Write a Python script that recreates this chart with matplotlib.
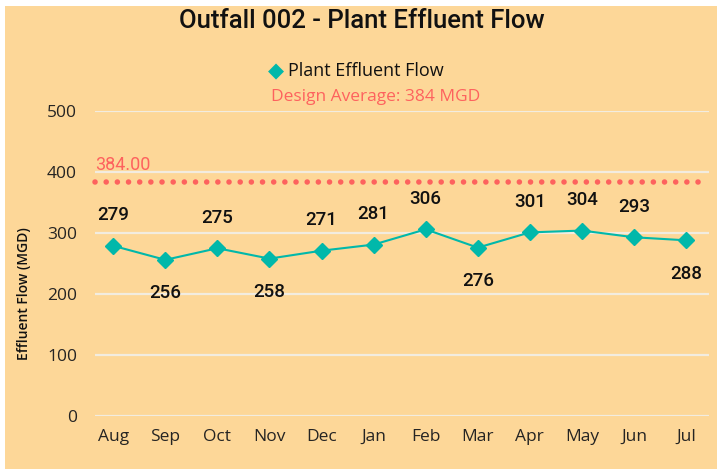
import matplotlib
matplotlib.use('Agg')
import matplotlib.pyplot as plt

# ── Data ─────────────────────────────────────────────────────────────────────
months = ['Aug', 'Sep', 'Oct', 'Nov', 'Dec', 'Jan',
          'Feb', 'Mar', 'Apr', 'May', 'Jun', 'Jul']
flow = [279, 256, 275, 258, 271, 281, 306, 276, 301, 304, 293, 288]
label_above = [True, False, True, False, True, True,
               True, False, True, True, True, False]
design_avg = 384.00
y_ticks = [0, 100, 200, 300, 400, 500]

# ── Colours ──────────────────────────────────────────────────────────────────
BG = '#FDD798'
TEAL = '#01B8AA'
RED = '#FD625E'
GRID = '#F2ECE0'
TEXT = '#252423'

W, H = 717, 469
fig = plt.figure(figsize=(W / 100, H / 100), dpi=100)
fig.patch.set_facecolor('white')
fig.add_artist(plt.Rectangle((5 / W, 0), 1, 1 - 6 / H, transform=fig.transFigure,
                             facecolor=BG, edgecolor='none', zorder=0))

ax = fig.add_axes([95 / W, 53 / H, (709 - 95) / W, (416 - 111) / H])
ax.set_facecolor('none')
x = list(range(len(months)))
ax.set_xlim(-0.35, 11.44)
ax.set_ylim(0, 500)

for s in ax.spines.values():
    s.set_visible(False)
ax.set_yticks(y_ticks)
ax.yaxis.grid(True, color=GRID, lw=1.6)
ax.set_axisbelow(True)
ax.tick_params(length=0)
ax.tick_params(axis='y', pad=13, labelsize=12.5, labelcolor=TEXT)
ax.tick_params(axis='x', pad=9, labelsize=12.5, labelcolor=TEXT)
ax.set_xticks(x)
ax.set_xticklabels(months)
for t in ax.get_xticklabels() + ax.get_yticklabels():
    t.set_family('Open Sans')

# design average line
ax.axhline(design_avg, color=RED, lw=4, ls=(0, (0.01, 2.0)),
           dash_capstyle='round', zorder=2, clip_on=False)
ax.text(-0.35, design_avg + 12, f'{design_avg:.2f}', color=RED, fontsize=13,
        family='Roboto', ha='left', va='bottom')

# series
ax.plot(x, flow, color=TEAL, lw=1.5, marker='D', markersize=8,
        markeredgecolor=TEAL, zorder=3, clip_on=False)
for xi, v, up in zip(x, flow, label_above):
    off = 22 if up else -24
    ax.annotate(str(v), (xi, v), xytext=(0, off), textcoords='offset points',
                ha='center', va='center', fontsize=13.5, fontweight='medium',
                family='Roboto', color='#111111')

ax.set_ylabel('Effluent Flow (MGD)', fontsize=10, family='Open Sans',
              fontweight='semibold', color='#111111')
ax.yaxis.set_label_coords(-64 / (709 - 95), 0.4)

# title and legend
fig.text(362 / W, 1 - 21 / H, 'Outfall 002 - Plant Effluent Flow',
         ha='center', va='center', fontsize=18.5, family='Roboto',
         fontweight='medium', color='#111111')
fig.text(276 / W, 1 - 71 / H, '\u25C6', ha='center', va='center',
         fontsize=15, color=TEAL, family='DejaVu Sans')
fig.text(288 / W, 1 - 71 / H, 'Plant Effluent Flow', ha='left', va='center',
         fontsize=13, family='Open Sans', color='#111111')
fig.text(376 / W, 1 - 97 / H, 'Design Average: 384 MGD', ha='center',
         va='center', fontsize=12.5, family='Open Sans', color=RED)

fig.savefig('out.png', dpi=100, facecolor='white')
